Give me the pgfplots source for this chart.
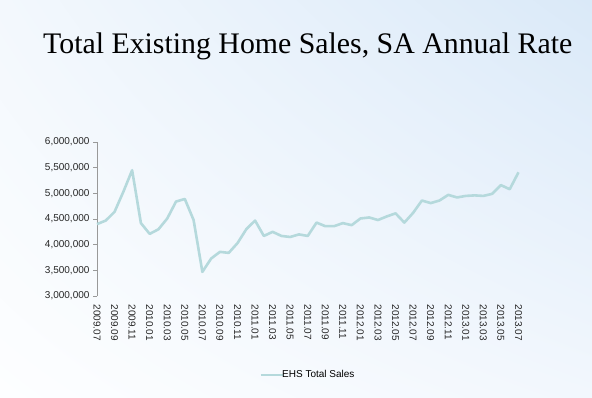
\documentclass[border=0pt]{standalone}
\usepackage{pgfplots}
\pgfplotsset{compat=1.18}
\usetikzlibrary{shadings}
\usepackage{fontspec}
\setmainfont{Liberation Sans}
\newfontfamily\titlefont{Liberation Serif}
\definecolor{linec}{HTML}{B5D9DC}
\definecolor{bgUL}{HTML}{F3F8FD}
\definecolor{bgUR}{HTML}{DAE9F8}
\definecolor{bgLL}{HTML}{FDFEFF}
\definecolor{bgLR}{HTML}{F2F7FD}
\pgfplotstableread{
idx val
0 4400000
1 4470000
2 4640000
3 5030000
4 5450000
5 4420000
6 4210000
7 4300000
8 4510000
9 4840000
10 4890000
11 4480000
12 3470000
13 3730000
14 3860000
15 3840000
16 4030000
17 4300000
18 4470000
19 4170000
20 4250000
21 4170000
22 4150000
23 4200000
24 4170000
25 4430000
26 4360000
27 4360000
28 4420000
29 4380000
30 4510000
31 4530000
32 4480000
33 4550000
34 4610000
35 4430000
36 4620000
37 4860000
38 4810000
39 4860000
40 4970000
41 4920000
42 4950000
43 4960000
44 4950000
45 4990000
46 5160000
47 5080000
48 5410000
}\ehs
\begin{document}
\begin{tikzpicture}[x=1pt,y=1pt]
\shade[upper left=bgUL, upper right=bgUR, lower left=bgLL, lower right=bgLR] (0,0) rectangle (592,397);
\useasboundingbox (0,0) rectangle (592,397);
\node[anchor=base west, inner sep=0pt] at (43,343) {\resizebox{529pt}{!}{\titlefont Total Existing Home Sales, SA Annual Rate}};
\begin{axis}[
  scale only axis,
  width=421.5pt, height=154pt,
  at={(97pt,101pt)}, anchor=south west,
  xmin=0, xmax=48, ymin=3000000, ymax=6000000,
  axis lines*=left,
  x axis line style={draw=none},
  y axis line style={draw=gray!80, line width=0.6pt},
  xtick={0,2,...,48},
  xticklabels={2009.07,2009.09,2009.11,2010.01,2010.03,2010.05,2010.07,2010.09,2010.11,2011.01,2011.03,2011.05,2011.07,2011.09,2011.11,2012.01,2012.03,2012.05,2012.07,2012.09,2012.11,2013.01,2013.03,2013.05,2013.07},
  xtick style={draw=none},
  xticklabel style={rotate=-90, anchor=west, font=\fontsize{10}{11}\selectfont, inner sep=0pt, xshift=4.5pt},
  ytick={3000000,3500000,...,6000000},
  ytick style={draw=gray!80, line width=0.6pt},
  tick align=outside,
  major tick length=4pt,
  scaled y ticks=false,
  yticklabel style={font=\fontsize{10}{11}\selectfont, /pgf/number format/.cd, fixed, precision=0, 1000 sep={,}, assume math mode=true},
  tick label style={text=black!85},
  legend style={at={(0.5006,-0.513)}, anchor=center, draw=none, fill=none, font=\fontsize{10}{11}\selectfont, inner sep=0pt, /tikz/every even column/.append style={column sep=0pt}},
  legend image code/.code={\draw[#1] (0pt,0pt) -- (22pt,0pt);},
  legend cell align=left,
  clip=false,
]
\addplot[linec, line width=2.6pt, line join=round] table[x=idx, y=val] {\ehs};
\addlegendentry{\hspace{-4pt}EHS Total Sales}
\end{axis}
\end{tikzpicture}
\end{document}
